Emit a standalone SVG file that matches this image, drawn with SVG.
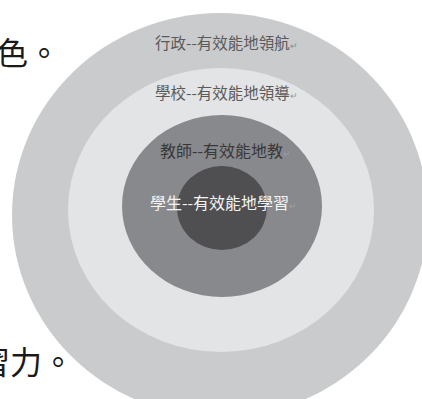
<svg xmlns="http://www.w3.org/2000/svg" width="422" height="399" viewBox="0 0 422 399">
<style>
.lbl{font-family:"Noto Sans CJK TC","Noto Sans CJK SC",sans-serif;}
.big{font-family:"Noto Sans CJK TC","Noto Sans CJK SC",serif;font-size:32px;fill:#1a1a1a;}
.mark{font-size:9px;}
</style>
<rect width="422" height="399" fill="#ffffff"/>
<text class="big" x="-4" y="65">色。</text>
<text class="big" x="-22" y="374">習力。</text>
<g id="ring-admin">
<ellipse cx="220" cy="215" rx="208" ry="202" fill="#cacbcd"/>
<text class="lbl" x="155" y="49" font-size="15.5" fill="#5a5a5a">行政--有效能地領航<tspan class="mark" fill="#8a8a8a">↵</tspan></text>
</g>
<g id="ring-school">
<ellipse cx="221" cy="210" rx="153" ry="142" fill="#e3e4e6"/>
<text class="lbl" x="155" y="99" font-size="15.5" fill="#5a5a5a">學校--有效能地領導<tspan class="mark" fill="#9a9a9a">↵</tspan></text>
</g>
<g id="ring-teacher">
<ellipse cx="222" cy="206" rx="100" ry="91" fill="#88898d"/>
<text class="lbl" x="160" y="157" font-size="16" fill="#383838">教師--有效能地教<tspan class="mark" fill="#9a9b9e">↵</tspan></text>
</g>
<g id="ring-student">
<ellipse cx="222" cy="208" rx="45" ry="42" fill="#4f4f51"/>
<text class="lbl" x="150" y="209" font-size="16" fill="#f4f4f4">學生--有效能地學習<tspan class="mark" fill="#a0a0a3">↵</tspan></text>
</g>
<g id="connectors"></g>
</svg>
